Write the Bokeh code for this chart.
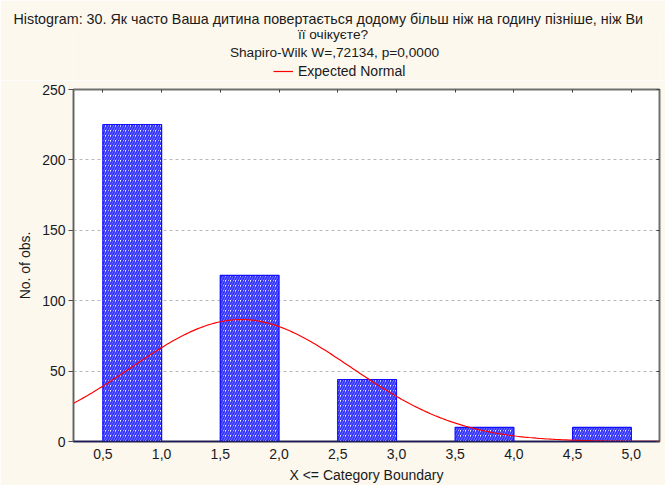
import math
from bokeh.plotting import figure
from bokeh.layouts import column
from bokeh.models import (Legend, LegendItem, LinearAxis, FixedTicker, Range1d,
                          CustomJSTickFormatter, Title)
from bokeh.core.properties import value
from bokeh.embed import file_html
from bokeh.resources import INLINE

# ---------------- data ----------------
bin_left = [0.5, 1.5, 2.5, 3.5, 4.5]
bin_right = [1.0, 2.0, 3.0, 4.0, 5.0]
counts = [225, 118, 44, 10, 10]
x_ticks = [0.5, 1.0, 1.5, 2.0, 2.5, 3.0, 3.5, 4.0, 4.5, 5.0]
x_tick_labels = ["0,5", "1,0", "1,5", "2,0", "2,5", "3,0", "3,5", "4,0", "4,5", "5,0"]
y_ticks = [0, 50, 100, 150, 200, 250]
title_line1 = "Histogram: 30. Як часто Ваша дитина повертається додому більш ніж на годину  пізніше, ніж Ви"
title_line2 = "її очікуєте?"
subtitle = "Shapiro-Wilk W=,72134, p=0,0000"
legend_label = "Expected Normal"
x_label = "X <= Category Boundary"
y_label = "No. of obs."
bin_width = 0.5

# expected normal curve fitted to the histogram (mean / sd of the observations)
n_obs = sum(counts)
mean = sum(v * c for v, c in zip(bin_right, counts)) / n_obs
var = sum(c * (v - mean) ** 2 for v, c in zip(bin_right, counts)) / (n_obs - 1)
sd = math.sqrt(var)
curve_x = [0.25 + i * 0.02 for i in range(251)]
curve_y = [n_obs * bin_width / (sd * math.sqrt(2 * math.pi)) *
           math.exp(-0.5 * ((x - mean) / sd) ** 2) for x in curve_x]

# ---------------- style ----------------
FONT = "Liberation Sans"
CREAM = "#FCF8EE"
TXT = "#1a1a1a"
FS = "14px"
W = 665
HEAD_H = 80
HEAD_TOP = 26
RED = "#ff0000"

# ---------------- header: titles + legend ----------------
head = figure(width=W, height=HEAD_H, output_backend="svg", toolbar_location=None,
              title=None, x_axis_type=None, y_axis_type=None,
              x_range=Range1d(73, 659), y_range=Range1d(HEAD_H, HEAD_TOP),
              min_border_top=HEAD_TOP, min_border_bottom=0,
              background_fill_color=CREAM, border_fill_color=CREAM,
              outline_line_color=None)
head.xgrid.visible = False
head.ygrid.visible = False

head.add_layout(Title(text=title_line1, align="left", offset=-60, standoff=0,
                      text_font=FONT, text_font_size="14.3px",
                      text_font_style="normal", text_color=TXT,
                      text_line_height=0.9), "above")

head.text(x=[332.5], y=[34], text=[title_line2],
          text_align="center", text_baseline="middle", text_line_height=0.9,
          text_font=value(FONT), text_font_size="13.7px", text_color=TXT)
head.text(x=[334], y=[52], text=[subtitle],
          text_align="center", text_baseline="middle", text_line_height=0.9,
          text_font=value(FONT), text_font_size="13.7px", text_color=TXT)

proxy = head.line(curve_x, curve_y, line_color=RED, line_width=1.2, visible=False)
legend = Legend(items=[LegendItem(label=legend_label, renderers=[proxy])],
                location=(200, 1), padding=0, margin=0, spacing=0,
                glyph_width=20, glyph_height=14, label_height=14,
                label_standoff=5, background_fill_alpha=0,
                border_line_alpha=0, inactive_fill_alpha=0,
                label_text_font=FONT, label_text_font_size=FS,
                label_text_color=TXT)
head.add_layout(legend, "center")

# ---------------- main histogram ----------------
p = figure(width=W, height=485 - HEAD_H, output_backend="svg", toolbar_location=None,
           title=None,
           x_range=Range1d(0.25, 5.24), y_range=Range1d(0, 250),
           min_border_left=73, min_border_right=6, min_border_top=9,
           min_border_bottom=44, background_fill_color="white",
           border_fill_color=CREAM, outline_line_color="#707070",
           outline_line_width=2)

p.xgrid.grid_line_color = None
p.ygrid.ticker = FixedTicker(ticks=y_ticks)
p.ygrid.grid_line_color = "#b8b8b8"
p.ygrid.grid_line_dash = "3 3"
p.ygrid.grid_line_width = 1

p.quad(left=bin_left, right=bin_right, top=counts, bottom=0,
       fill_color="white", line_color="#1010ff", line_width=1.3,
       hatch_pattern="/", hatch_color="#3434ff", hatch_scale=5,
       hatch_weight=2)

p.line(curve_x, curve_y, line_color=RED, line_width=1.2)

xa = p.xaxis[0]
xa.ticker = FixedTicker(ticks=x_ticks)
xa.major_label_overrides = {t: l for t, l in zip(x_ticks, x_tick_labels)}
xa.major_tick_out = 0
xa.major_tick_in = 0
xa.minor_tick_line_color = None
xa.axis_line_color = "#1c1c5c"
xa.axis_line_width = 1.5
xa.major_label_standoff = 7
xa.major_label_text_font = FONT
xa.major_label_text_font_size = FS
xa.major_label_text_color = TXT
xa.axis_label = x_label
xa.axis_label_standoff = 5
xa.axis_label_text_font = FONT
xa.axis_label_text_font_size = FS
xa.axis_label_text_font_style = "normal"
xa.axis_label_text_color = TXT

ya = p.yaxis[0]
ya.ticker = FixedTicker(ticks=y_ticks)
ya.major_tick_out = 5
ya.major_tick_in = 0
ya.major_tick_line_color = "#505050"
ya.minor_tick_line_color = None
ya.axis_line_color = "#606060"
ya.major_label_standoff = 3
ya.major_label_text_font = FONT
ya.major_label_text_font_size = FS
ya.major_label_text_color = TXT
ya.axis_label = y_label
ya.axis_label_standoff = 6
ya.axis_label_text_font = FONT
ya.axis_label_text_font_size = FS
ya.axis_label_text_font_style = "normal"
ya.axis_label_text_color = TXT

blank = CustomJSTickFormatter(code="return ''")
top = LinearAxis(ticker=FixedTicker(ticks=x_ticks), formatter=blank,
                 major_tick_in=3, major_tick_out=0, major_label_standoff=0,
                 axis_line_color=None, major_tick_line_color="#404040",
                 minor_tick_line_color=None)
p.add_layout(top, "above")
right = LinearAxis(ticker=FixedTicker(ticks=y_ticks), formatter=blank,
                   major_tick_in=3, major_tick_out=0, major_label_standoff=0,
                   axis_line_color=None, major_tick_line_color="#404040",
                   minor_tick_line_color=None)
p.add_layout(right, "right")

layout = column(head, p, spacing=0)
open("out.html", "w").write(file_html(layout, INLINE))
